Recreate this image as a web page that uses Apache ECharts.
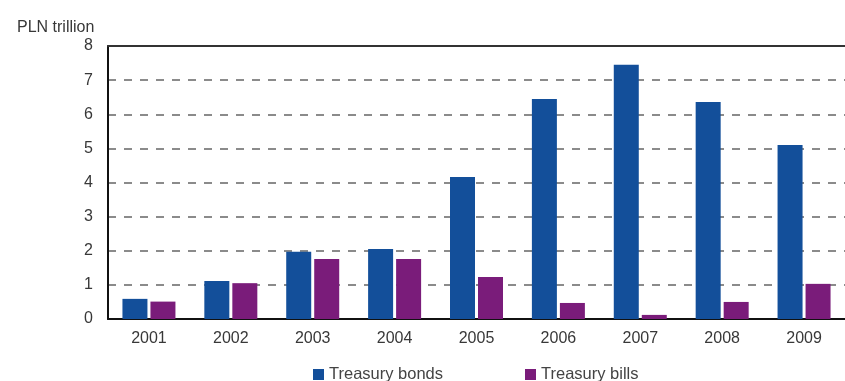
<!DOCTYPE html>
<html>
<head>
<meta charset="utf-8">
<script src="https://cdn.jsdelivr.net/npm/echarts@6/dist/echarts.min.js"></script>
<style>
  html, body { margin: 0; padding: 0; background: #fff; }
  #chart { width: 845px; height: 381px; }
</style>
</head>
<body>
<div id="chart"></div>
<script>
// Polish Treasury securities, PLN trillion
const years = ['2001', '2002', '2003', '2004', '2005', '2006', '2007', '2008', '2009'];
const treasuryBonds = [0.59, 1.11, 1.97, 2.05, 4.16, 6.45, 7.45, 6.36, 5.1];
const treasuryBills = [0.51, 1.05, 1.76, 1.76, 1.23, 0.47, 0.12, 0.5, 1.03];
const yTicks = [0, 1, 2, 3, 4, 5, 6, 7, 8];

const FONT = '"Liberation Sans", Arial, sans-serif';
const TEXT = '#383838';

const chart = echarts.init(document.getElementById('chart'), null, { renderer: 'canvas' });
chart.setOption({
  animation: false,
  textStyle: { fontFamily: FONT },
  grid: { left: 108, top: 46, width: 745, height: 273, containLabel: false },
  title: {
    text: 'PLN trillion',
    left: 12, top: 15,
    textStyle: { fontFamily: FONT, fontSize: 16, fontWeight: 'normal', color: TEXT }
  },
  legend: {
    bottom: -7, left: 308,
    itemWidth: 11, itemHeight: 11, itemGap: 82,
    icon: 'rect',
    textStyle: { fontFamily: FONT, fontSize: 16.5, color: '#444' },
    data: ['Treasury bonds', 'Treasury bills']
  },
  xAxis: [{
    type: 'category',
    data: years,
    axisLine: { lineStyle: { color: '#111', width: 2 } },
    axisTick: { show: false },
    axisLabel: { fontFamily: FONT, fontSize: 16, color: TEXT, margin: 12 }
  }, {
    type: 'category',
    position: 'top',
    data: years,
    axisLine: { lineStyle: { color: '#333', width: 2 } },
    axisTick: { show: false },
    axisLabel: { show: false }
  }],
  yAxis: {
    type: 'value',
    min: yTicks[0], max: yTicks[yTicks.length - 1], interval: 1,
    axisLine: { show: true, lineStyle: { color: '#111', width: 2 } },
    axisTick: { show: false },
    axisLabel: { fontFamily: FONT, fontSize: 16, color: TEXT, margin: 15 },
    splitLine: { lineStyle: { color: '#666', width: 1.5, type: [8, 8] } }
  },
  series: [{
    name: 'Treasury bonds',
    type: 'bar',
    data: treasuryBonds,
    barWidth: 25,
    barGap: '12%',
    itemStyle: { color: '#134F9A' }
  }, {
    name: 'Treasury bills',
    type: 'bar',
    data: treasuryBills,
    barWidth: 25,
    itemStyle: { color: '#7A1C7A' }
  }]
});
</script>
</body>
</html>
